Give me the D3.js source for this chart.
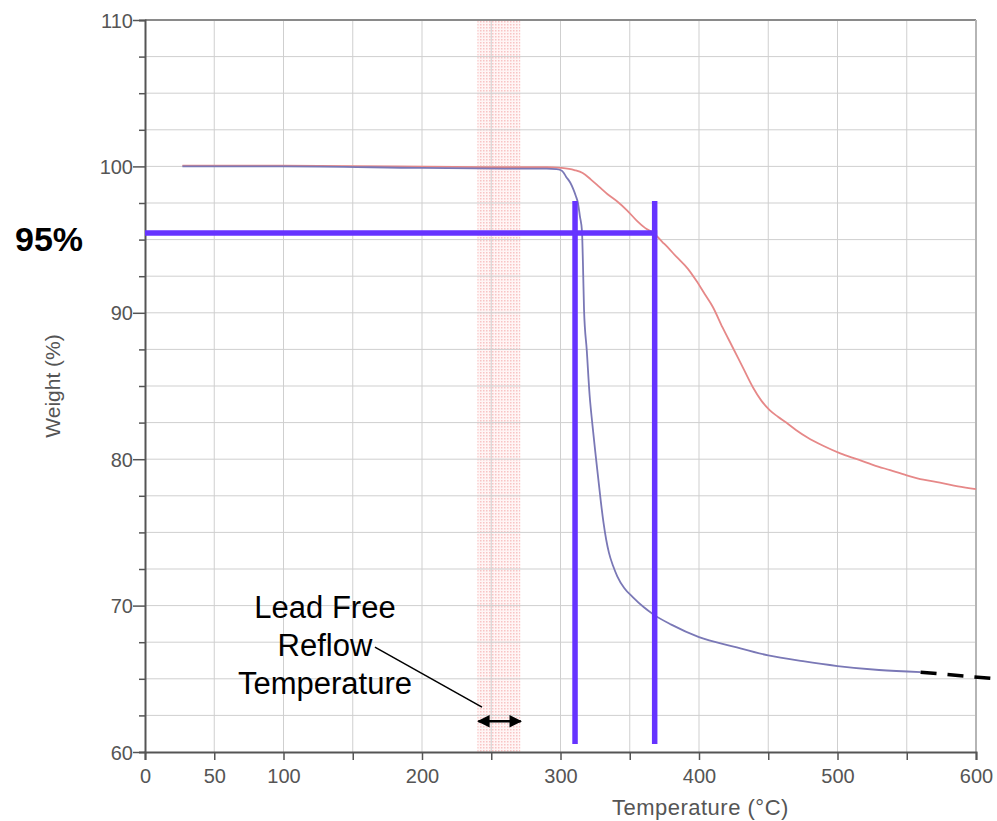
<!DOCTYPE html>
<html>
<head>
<meta charset="utf-8">
<script src="https://cdn.jsdelivr.net/npm/d3@7"></script>
<style>
  body { margin: 0; background: #fff; }
  svg { display: block; font-family: "Liberation Sans", Arial, sans-serif; }
</style>
</head>
<body>
<svg id="chart" width="997" height="821"></svg>
<script>
// ****** Data
var xTicks = [0, 50, 100, 200, 300, 400, 500, 600];
var yTicks = [60, 70, 80, 90, 100, 110];

// red trace [temperature, weight]
var redSeries = [
  [27,100.05],[100,100.05],[180,100.0],[250,99.95],[290,99.95],[300,99.9],
  [310,99.75],[316,99.55],[322,99.1],[328,98.6],[334,98.1],[341,97.6],
  [348,97.0],[355,96.3],[361,95.8],[367,95.45],[375,94.7],[384,93.8],
  [392,93.0],[398,92.2],[404,91.3],[410,90.4],[417,89.0],[424,87.7],
  [432,86.2],[439,84.9],[445,84.0],[451,83.35],[457,82.9],[463,82.5],
  [470,82.0],[478,81.5],[490,80.9],[502,80.4],[514,80.0],[526,79.6],
  [538,79.25],[550,78.9],[562,78.6],[574,78.4],[587,78.15],[600,77.96]
];
// blue trace
var blueSeries = [
  [27,100.0],[100,100.0],[200,99.9],[260,99.85],[290,99.85],[297,99.82],
  [300,99.75],[302,99.6],[304,99.3],[307,98.9],[309,98.5],[311,98.0],
  [312.6,97.5],[314,96.6],[315.5,95.6],[316.2,93.4],[317,90.2],[319,87.4],
  [321,84.4],[323,82.4],[325,80.6],[327,78.9],[329,77.2],[331,75.7],
  [333,74.5],[335,73.6],[338,72.7],[341,72.0],[346,71.2],[352,70.6],
  [360,69.9],[367,69.4],[380,68.7],[400,67.85],[425,67.2],[450,66.6],
  [475,66.2],[500,65.87],[530,65.6],[560,65.45]
];
// extrapolated dashed tail
var tailSeries = [[560,65.45],[614,65.0]];

// annotations
var level95 = 95.45;
var onsetTemps = [310.5, 368];
var onsetRange = [60.55, 97.64];
var reflowBand = [240, 271];
var reflowArrow = [240, 272, 62.1];
var reflowLabel = ["Lead Free", "Reflow", "Temperature"];

// ****** Layout
var svg = d3.select('#chart');
var margin = {top: 20, right: 21, bottom: 69, left: 145};
var W = 997 - margin.left - margin.right;
var H = 821 - margin.top - margin.bottom;

var x = d3.scaleLinear().domain([0, 600]).range([margin.left, margin.left + W]);
var y = d3.scaleLinear().domain([60, 110]).range([margin.top + H, margin.top]);

var defs = svg.append('defs');
var pat = defs.append('pattern').attr('id', 'dots')
  .attr('width', 3).attr('height', 3).attr('patternUnits', 'userSpaceOnUse');
pat.append('rect').attr('width', 3).attr('height', 3).attr('fill', '#fff5f5');
pat.append('rect').attr('width', 1.5).attr('height', 1.5).attr('fill', '#f8c4c4');

var marker = function(id, orient) {
  defs.append('marker').attr('id', id)
    .attr('viewBox', '0 0 10 10').attr('refX', 9).attr('refY', 5)
    .attr('markerWidth', 5).attr('markerHeight', 5)
    .attr('orient', orient)
    .append('path').attr('d', 'M0,0 L10,5 L0,10 Z').attr('fill', '#000');
};
marker('arrEnd', 'auto');
marker('arrStart', 'auto-start-reverse');

// reflow band
svg.append('rect')
  .attr('x', x(reflowBand[0])).attr('width', x(reflowBand[1]) - x(reflowBand[0]))
  .attr('y', y(110)).attr('height', y(60) - y(110))
  .attr('fill', 'url(#dots)');

// grid
var grid = svg.append('g').attr('stroke', '#cfcfcf').attr('stroke-width', 1);
grid.selectAll('.gx').data(d3.range(50, 600, 50)).enter().append('line')
  .attr('x1', d => x(d)).attr('x2', d => x(d))
  .attr('y1', y(110)).attr('y2', y(60));
grid.selectAll('.gy').data(d3.range(62.5, 110, 2.5)).enter().append('line')
  .attr('y1', d => y(d)).attr('y2', d => y(d))
  .attr('x1', x(0)).attr('x2', x(600));

// frame top / right
svg.append('line').attr('x1', x(0)).attr('x2', x(600)).attr('y1', y(110)).attr('y2', y(110))
  .attr('stroke', '#8a8a8a').attr('stroke-width', 2);
svg.append('line').attr('x1', x(600)).attr('x2', x(600)).attr('y1', y(110)).attr('y2', y(60))
  .attr('stroke', '#b5b5b5').attr('stroke-width', 2);

// axes
var xAxis = svg.append('g').attr('transform', 'translate(0,' + y(60) + ')')
  .call(d3.axisBottom(x).tickValues(d3.range(0, 601, 50)).tickSize(8)
    .tickFormat(d => xTicks.indexOf(d) >= 0 ? d : ''));
var yAxis = svg.append('g').attr('transform', 'translate(' + x(0) + ',0)')
  .call(d3.axisLeft(y).tickValues(d3.range(60, 110.1, 2.5)).tickSize(6)
    .tickFormat(d => yTicks.indexOf(d) >= 0 ? d : ''));
yAxis.selectAll('.tick').filter(d => yTicks.indexOf(d) >= 0).select('line').attr('x2', -12);

[xAxis, yAxis].forEach(function(a) {
  a.select('.domain').attr('stroke', '#555').attr('stroke-width', 2);
  a.selectAll('.tick line').attr('stroke', '#555').attr('stroke-width', 1.5);
  a.selectAll('text').attr('fill', '#555').style('font-size', '20px')
    .style('font-family', '"Liberation Sans", Arial, sans-serif');
});
xAxis.selectAll('text').attr('dy', '1.0em');
yAxis.selectAll('text').attr('x', -12).attr('dy', '0.35em');

svg.append('text').attr('x', x(401)).attr('y', 815).attr('text-anchor', 'middle')
  .attr('fill', '#555').style('font-size', '22px').style('letter-spacing', '0.5px')
  .text('Temperature (°C)');
svg.append('text').attr('transform', 'translate(60,' + y(85) + ') rotate(-90)')
  .attr('text-anchor', 'middle').attr('fill', '#555').style('font-size', '21px')
  .text('Weight (%)');

// traces
var line = d3.line().x(d => x(d[0])).y(d => y(d[1])).curve(d3.curveMonotoneX);
svg.append('path').datum(redSeries).attr('d', line)
  .attr('fill', 'none').attr('stroke', '#e68888').attr('stroke-width', 1.8);
svg.append('path').datum(blueSeries).attr('d', line)
  .attr('fill', 'none').attr('stroke', '#7a78b6').attr('stroke-width', 1.8);
svg.append('path').datum(tailSeries).attr('d', d3.line().x(d => x(d[0])).y(d => y(d[1])))
  .attr('fill', 'none').attr('stroke', '#000').attr('stroke-width', 3.5)
  .attr('stroke-dasharray', '16,11');

// 95% markers
var mark = svg.append('g').attr('stroke', '#6633ff').attr('stroke-width', 5.5);
mark.append('line').attr('x1', x(0)).attr('x2', x(onsetTemps[1]) + 2.5)
  .attr('y1', y(level95)).attr('y2', y(level95));
mark.selectAll('.v').data(onsetTemps).enter().append('line')
  .attr('x1', d => x(d)).attr('x2', d => x(d))
  .attr('y1', y(onsetRange[1])).attr('y2', y(onsetRange[0]));
svg.append('text').attr('x', 15).attr('y', y(level95) + 18)
  .style('font-size', '34px').style('font-weight', 'bold').attr('fill', '#000')
  .text('95%');

// reflow annotation
svg.append('line')
  .attr('x1', x(reflowArrow[0]) + 1).attr('x2', x(reflowArrow[1]) - 1)
  .attr('y1', y(reflowArrow[2])).attr('y2', y(reflowArrow[2]))
  .attr('stroke', '#000').attr('stroke-width', 2.5)
  .attr('marker-start', 'url(#arrStart)').attr('marker-end', 'url(#arrEnd)');
svg.append('line')
  .attr('x1', x(166)).attr('y1', y(67.17)).attr('x2', x(243.3)).attr('y2', y(63.07))
  .attr('stroke', '#000').attr('stroke-width', 1.5);
svg.append('text').attr('text-anchor', 'middle').style('font-size', '31px').attr('fill', '#000')
  .selectAll('tspan').data(reflowLabel).enter().append('tspan')
  .attr('x', 325).attr('y', (d, i) => 618 + i * 38).text(d => d);
</script>
</body>
</html>
